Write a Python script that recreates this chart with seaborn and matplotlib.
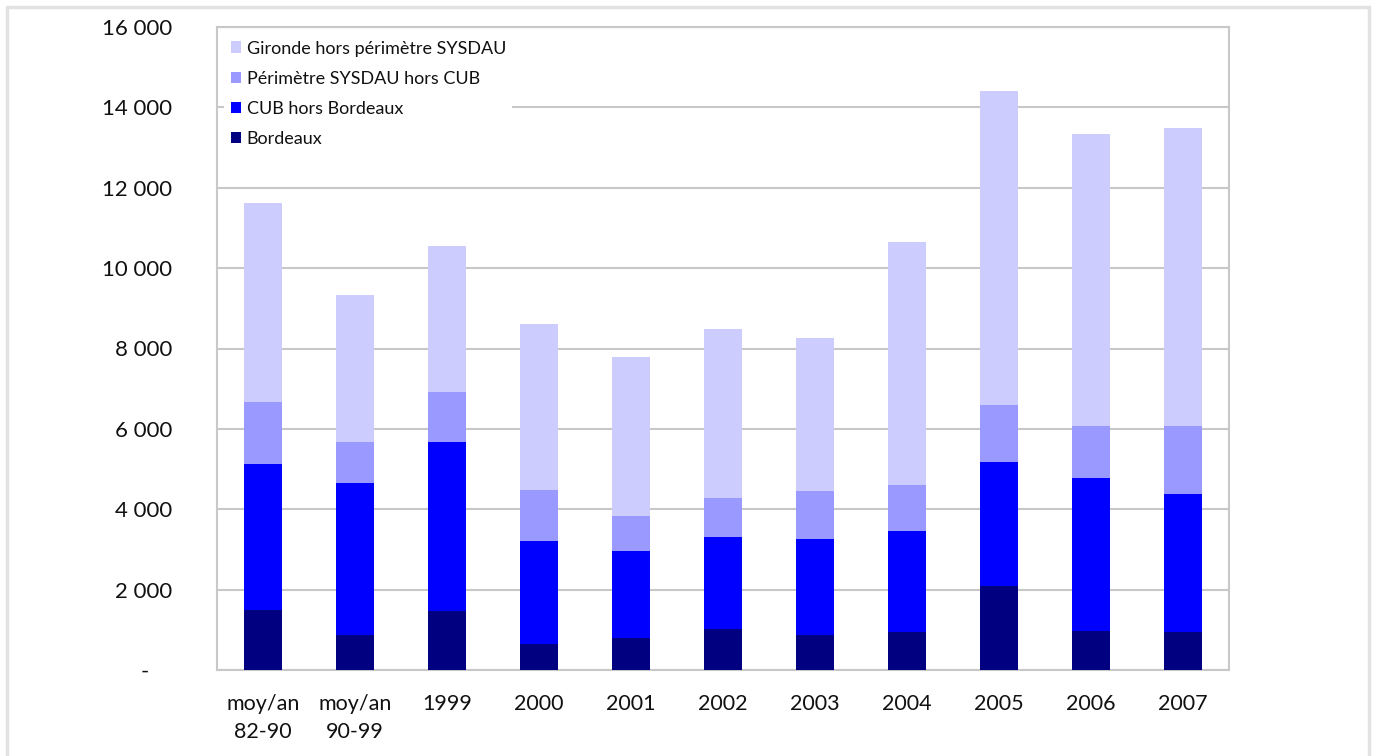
import pandas as pd
import matplotlib
matplotlib.use("Agg")
import matplotlib.pyplot as plt
from matplotlib.patches import Patch, Rectangle
from matplotlib.ticker import FuncFormatter
import seaborn as sns

# Categories and stacked segment values
periods = ['moy/an\n82-90', 'moy/an\n90-99', '1999', '2000', '2001', '2002',
           '2003', '2004', '2005', '2006', '2007']
bordeaux = [1490, 865, 1470, 650, 795, 1020, 870, 945, 2090, 970, 945]
cub_hors_bordeaux = [3635, 3790, 4205, 2560, 2165, 2290, 2390, 2515, 3085, 3805, 3435]
sysdau_hors_cub = [1545, 1020, 1240, 1270, 870, 970, 1195, 1145, 1420, 1295, 1690]
gironde_hors_sysdau = [4950, 3655, 3635, 4130, 3960, 4205, 3805, 6045, 7810, 7265, 7415]

series_names = ['Bordeaux', 'CUB hors Bordeaux', 'Périmètre SYSDAU hors CUB',
                'Gironde hors périmètre SYSDAU']
series_colors = ['#000080', '#0000FF', '#9999FF', '#CCCCFF']

# Build a tidy table with cumulative tops for stacking
df = pd.DataFrame({
    'period': periods,
    series_names[0]: bordeaux,
    series_names[1]: cub_hors_bordeaux,
    series_names[2]: sysdau_hors_cub,
    series_names[3]: gironde_hors_sysdau,
})
cum = df[series_names].cumsum(axis=1)
cum['period'] = df['period']

sns.set_style("white")
plt.rcParams['font.family'] = ['Lato', 'DejaVu Sans']

fig = plt.figure(figsize=(13.75, 7.56), dpi=100)
ax = fig.add_axes([217 / 1375, 86 / 756, (1229 - 217) / 1375, (670 - 27) / 756])

# Draw from the tallest cumulative segment down so each lower one covers it
for name, color in reversed(list(zip(series_names, series_colors))):
    sns.barplot(data=cum, x='period', y=name, color=color, width=0.41,
                saturation=1, ax=ax, zorder=3, linewidth=0)

grid_c = '#c8c8c8'
ax.set_ylim(0, 16000)
ax.set_xlim(-0.5, len(periods) - 0.5)
ax.set_yticks(range(0, 16001, 2000))
ax.yaxis.set_major_formatter(FuncFormatter(
    lambda v, p: '-    ' if v == 0 else f"{int(v):,}".replace(',', ' ')))
ax.yaxis.grid(True, color=grid_c, linewidth=1.5, zorder=0)
ax.set_axisbelow(True)
ax.set_xlabel('')
ax.set_ylabel('')

for s in ax.spines.values():
    s.set_visible(True)
    s.set_color(grid_c)
    s.set_linewidth(1.5)

ax.tick_params(axis='y', which='major', length=5, width=1.5, color=grid_c,
               pad=27, labelsize=16, labelcolor='#111111')
ax.tick_params(axis='x', which='major', length=0, pad=17, labelsize=15.5,
               labelcolor='#111111')
ax.set_xticks([i - 0.5 for i in range(len(periods) + 1)], minor=True)
ax.tick_params(axis='x', which='minor', length=6, width=1.5, color=grid_c)
for lbl in ax.get_xticklabels():
    lbl.set_linespacing(1.55)

handles = [Patch(facecolor=c, edgecolor='none', label=n)
           for n, c in zip(series_names, series_colors)][::-1]
leg = ax.legend(handles=handles, loc='upper left', bbox_to_anchor=(0.0, 1.0),
                frameon=True, facecolor='white', edgecolor='none', framealpha=1,
                fontsize=13, handlelength=0.6, handleheight=0.6,
                handletextpad=0.3, labelspacing=0.78, borderaxespad=0.4,
                borderpad=0.35, fancybox=False)
leg.set_zorder(5)
for t in leg.get_texts():
    t.set_color('#111111')

# light outer chart frame
fig.patches.append(Rectangle((7 / 1375, -0.02), (1369 - 7) / 1375, 1.02 - 7 / 756,
                             transform=fig.transFigure, fill=False,
                             edgecolor='#e2e2e2', linewidth=2.5))

fig.savefig('out.png', dpi=100)
